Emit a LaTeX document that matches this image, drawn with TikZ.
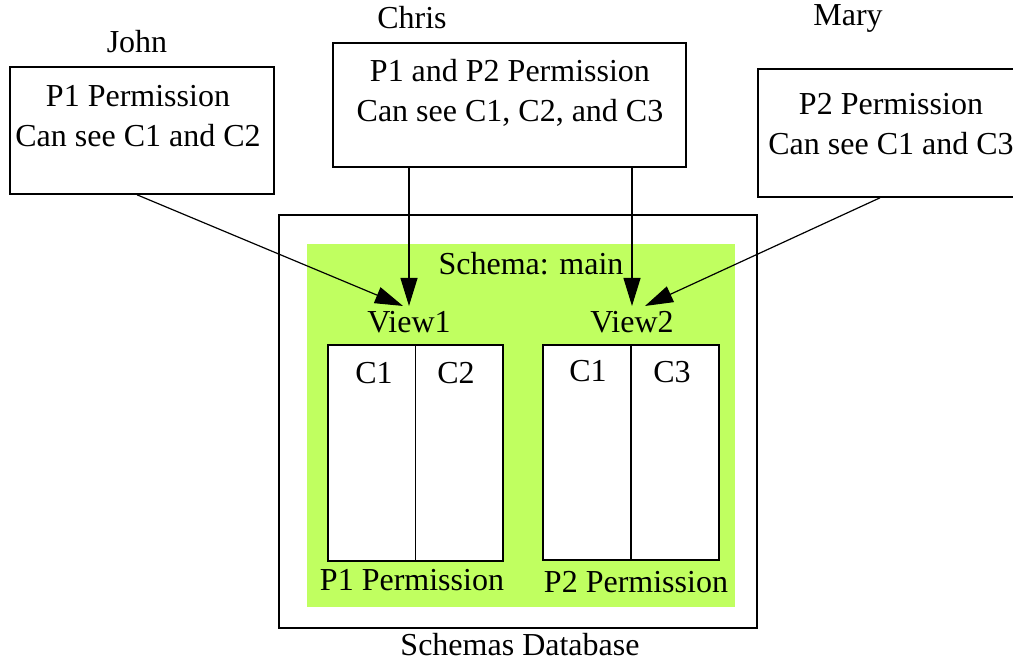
\documentclass[tikz,border=0pt]{standalone}
\usepackage{fontspec}
\setmainfont{Liberation Serif}
\usetikzlibrary{arrows.meta}
\definecolor{schemagreen}{RGB}{192,255,96}

\tikzset{
  txt/.style={font=\fontsize{32}{40}\selectfont, inner sep=0pt, align=center},
  viewlbl/.style={txt, inner sep=5pt},
  userbox/.style={draw, line width=1.6pt, inner sep=0pt},
  colbox/.style={draw, fill=white, line width=1.6pt, inner sep=0pt},
  perm/.style={-{Triangle[length=28pt,width=17pt]}, line width=1.2pt},
}

\begin{document}
\begin{tikzpicture}[x=1pt,y=-1pt]
\useasboundingbox (0,0) rectangle (1013,661);
% database and schema
\node[userbox, minimum width=478pt, minimum height=413pt] (db) at (518,421.5) {};
\node[fill=schemagreen, inner sep=0pt, minimum width=428pt, minimum height=363pt] (schema) at (521,425.5) {};
\node[txt] (dblabel) at (520,645) {Schemas Database};
\node[txt] (schemalabel) at (531,264) {Schema: main};
% views
\node[viewlbl] (view1) at (409,322) {View1};
\node[viewlbl] (view2) at (632,322) {View2};
\node[colbox, minimum width=175pt, minimum height=216pt] (t1) at (415.5,453) {};
\node[colbox, minimum width=176pt, minimum height=215pt] (t2) at (631,452.5) {};
\draw[line width=1.2pt] (t1.north) -- (t1.south);
\draw[line width=1.6pt] (t2.north) -- (t2.south);
\node[txt] (c11) at (374,373) {C1};
\node[txt] (c12) at (456,373) {C2};
\node[txt] (c21) at (588,371) {C1};
\node[txt] (c23) at (672,372) {C3};
\node[txt] (p1) at (412,580) {P1 Permission};
\node[txt] (p2) at (636,582) {P2 Permission};
% users
\node[txt] (john) at (137,42) {John};
\node[txt] (chris) at (412,18) {Chris};
\node[txt] (mary) at (848,18) {Mary};
\node[userbox, minimum width=264pt, minimum height=127pt] (johnbox) at (142,130.5) {};
\node[userbox, minimum width=353pt, minimum height=124pt] (chrisbox) at (509.5,105) {};
\node[userbox, minimum width=260pt, minimum height=128pt] (marybox) at (888,133) {};
\node[txt] (johntxt) at (138,116) {P1 Permission\\Can see C1 and C2};
\node[txt] (christxt) at (510,93) {P1 and P2 Permission\\Can see C1, C2, and C3};
\node[txt] (marytxt) at (891,124) {P2 Permission\\Can see C1 and C3};
% arrows
\draw[perm] ([xshift=-5pt]johnbox.south) -- ([xshift=-6pt]view1.north);
\draw[perm] (chrisbox.south -| view1.north) -- (view1.north);
\draw[perm] (chrisbox.south -| view2.north) -- (view2.north);
\draw[perm] ([xshift=-8pt]marybox.south) -- ([xshift=13pt]view2.north);
\end{tikzpicture}
\end{document}
